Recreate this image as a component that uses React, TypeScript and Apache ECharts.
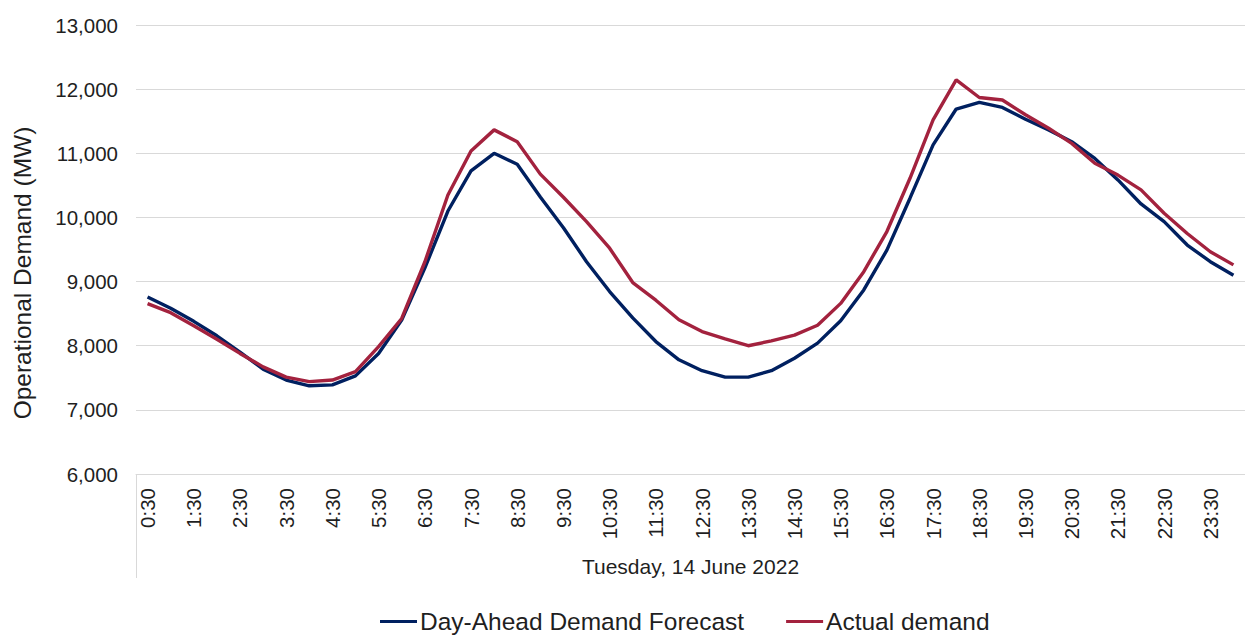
import React, { useEffect, useRef } from "react";
import * as echarts from "echarts";

// Half-hourly trading intervals for the day
const times = [
  "0:30", "1:00", "1:30", "2:00", "2:30", "3:00", "3:30", "4:00",
  "4:30", "5:00", "5:30", "6:00", "6:30", "7:00", "7:30", "8:00",
  "8:30", "9:00", "9:30", "10:00", "10:30", "11:00", "11:30", "12:00",
  "12:30", "13:00", "13:30", "14:00", "14:30", "15:00", "15:30", "16:00",
  "16:30", "17:00", "17:30", "18:00", "18:30", "19:00", "19:30", "20:00",
  "20:30", "21:00", "21:30", "22:00", "22:30", "23:00", "23:30", "24:00",
];

// Day-ahead demand forecast (MW)
const forecast = [
  8760, 8585, 8380, 8155, 7900, 7635, 7465, 7375,
  7390, 7530, 7880, 8400, 9210, 10100, 10725, 11000,
  10830, 10320, 9840, 9310, 8845, 8435, 8065, 7780,
  7610, 7510, 7510, 7610, 7805, 8040, 8390, 8870,
  9490, 10300, 11130, 11690, 11795, 11715, 11530, 11365,
  11180, 10920, 10585, 10210, 9935, 9570, 9310, 9100,
];

// Actual operational demand (MW)
const actual = [
  8655, 8515, 8310, 8100, 7880, 7670, 7510, 7440,
  7465, 7595, 7985, 8425, 9305, 10350, 11035, 11365,
  11180, 10675, 10315, 9935, 9520, 8985, 8710, 8405,
  8220, 8105, 8000, 8075, 8165, 8320, 8660, 9155,
  9780, 10610, 11520, 12145, 11870, 11830, 11600, 11390,
  11155, 10845, 10660, 10430, 10065, 9750, 9465, 9260,
];

const seriesNames = ["Day-Ahead Demand Forecast", "Actual demand"];
const seriesColors = ["#002060", "#A3223E"];

const yMin = 6000;
const yMax = 13000;
const yStep = 1000;

const FONT = "'Liberation Sans', Arial, Helvetica, sans-serif";
const TEXT = "#1f1f1f";
const GRID = "#d9d9d9";

export default function App() {
  const ref = useRef<HTMLDivElement>(null);

  useEffect(() => {
    document.body.style.margin = "0";
    const chart = echarts.init(ref.current!, null, { renderer: "svg" });
    chart.setOption({
      animation: false,
      backgroundColor: "#ffffff",
      textStyle: { fontFamily: FONT },
      grid: { left: 136, top: 25, width: 1118, height: 449, containLabel: false },
      legend: {
        data: seriesNames,
        left: 380,
        top: 609,
        padding: 0,
        icon: "rect",
        itemWidth: 37,
        itemHeight: 3,
        itemGap: 42,
        textStyle: {
          fontSize: 24.5,
          color: TEXT,
          fontFamily: FONT,
          padding: [0, 0, 0, -2],
        },
      },
      xAxis: {
        type: "category",
        data: times,
        boundaryGap: true,
        axisLine: { show: true, lineStyle: { color: GRID, width: 1 } },
        axisTick: { show: false },
        axisLabel: {
          interval: 1,
          rotate: 90,
          margin: 14,
          fontSize: 20.5,
          color: TEXT,
          fontFamily: FONT,
        },
        name: "Tuesday, 14 June 2022",
        nameLocation: "middle",
        nameGap: 82,
        nameTextStyle: { fontSize: 21, color: TEXT, fontFamily: FONT },
      },
      yAxis: {
        type: "value",
        min: yMin,
        max: yMax,
        interval: yStep,
        axisLine: { show: false },
        axisTick: { show: false },
        axisLabel: {
          margin: 18,
          fontSize: 20.5,
          color: TEXT,
          fontFamily: FONT,
          formatter: (v: number) => v.toLocaleString("en-US"),
        },
        splitLine: { show: true, lineStyle: { color: GRID, width: 1 } },
      },
      graphic: [
        {
          type: "line",
          shape: { x1: 136.5, y1: 474, x2: 136.5, y2: 578 },
          style: { stroke: GRID, lineWidth: 1 },
          silent: true,
        },
        {
          type: "text",
          x: 22,
          y: 273,
          rotation: Math.PI / 2,
          style: {
            text: "Operational Demand (MW)",
            fontSize: 24.5,
            fontFamily: FONT,
            fill: TEXT,
            align: "center",
            verticalAlign: "middle",
            textAlign: "center",
            textVerticalAlign: "middle",
          },
          silent: true,
        },
      ],
      series: [
        {
          name: seriesNames[0],
          type: "line",
          data: forecast,
          symbol: "none",
          color: seriesColors[0],
          lineStyle: { width: 3.4, color: seriesColors[0] },
        },
        {
          name: seriesNames[1],
          type: "line",
          data: actual,
          symbol: "none",
          color: seriesColors[1],
          lineStyle: { width: 3.4, color: seriesColors[1] },
        },
      ],
    });
    return () => chart.dispose();
  }, []);

  return <div ref={ref} style={{ width: 1245, height: 635 }} />;
}
